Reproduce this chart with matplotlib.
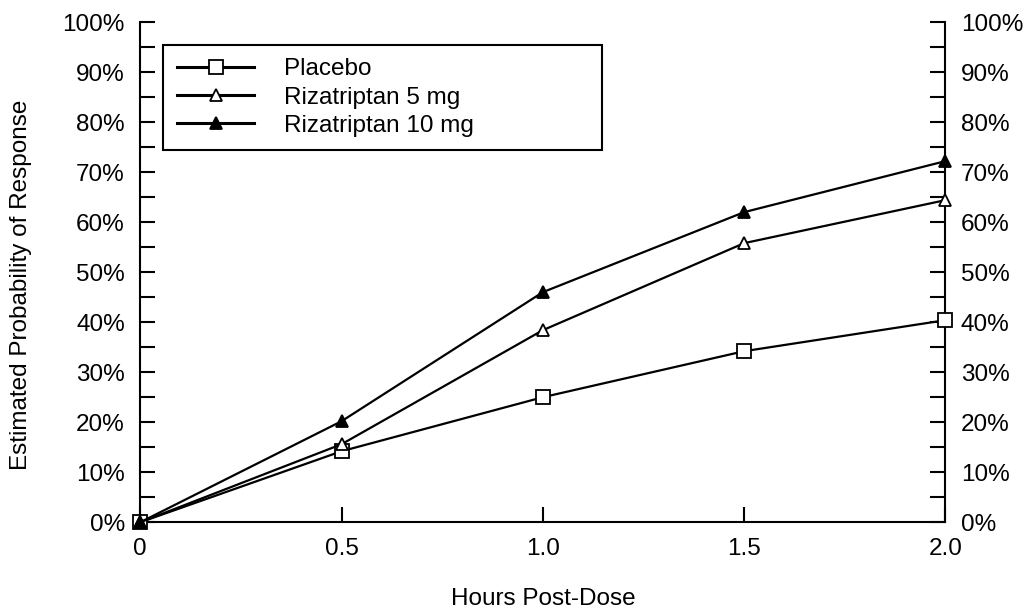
import numpy as np
import matplotlib.pyplot as plt
from matplotlib.ticker import MultipleLocator, FuncFormatter

plt.rcParams['font.family'] = ['Liberation Sans', 'DejaVu Sans']

# Data
hours = [0, 0.5, 1.0, 1.5, 2.0]
placebo = [0, 14.2, 25.0, 34.2, 40.4]
riza_5mg = [0, 15.6, 38.4, 55.8, 64.4]
riza_10mg = [0, 20.2, 46.0, 62.0, 72.2]
x_ticks = [0, 0.5, 1.0, 1.5, 2.0]
x_tick_labels = ['0', '0.5', '1.0', '1.5', '2.0']

fig = plt.figure(figsize=(10.31, 6.13), dpi=100)
ax = fig.add_axes([0.136, 0.148, 0.781, 0.816])

ax.plot(hours, placebo, color='black', lw=1.6, marker='s', ms=10,
        mfc='white', mec='black', mew=1.3, label='Placebo', zorder=3, clip_on=False)
ax.plot(hours, riza_5mg, color='black', lw=1.6, marker='^', ms=9,
        mfc='white', mec='black', mew=1.3, label='Rizatriptan 5 mg', zorder=4, clip_on=False)
ax.plot(hours, riza_10mg, color='black', lw=1.6, marker='^', ms=9,
        mfc='black', mec='black', mew=1.3, label='Rizatriptan 10 mg', zorder=5, clip_on=False)

ax.set_xlim(0, 2.0)
ax.set_ylim(0, 100)
ax.set_xticks(x_ticks)
ax.set_xticklabels(x_tick_labels)
ax.yaxis.set_major_locator(MultipleLocator(10))
ax.yaxis.set_minor_locator(MultipleLocator(5))
ax.yaxis.set_major_formatter(FuncFormatter(lambda v, p: f'{int(v)}%'))

ax.spines['top'].set_visible(False)
for s in ['left', 'right', 'bottom']:
    ax.spines[s].set_linewidth(1.5)

ax.tick_params(axis='both', which='both', direction='in', width=1.5,
               labelsize=17.5, colors='black')
ax.tick_params(axis='y', which='both', length=11, right=True, labelright=True, pad=11)
ax.tick_params(axis='x', which='major', length=11, pad=11)

ax.set_xlabel('Hours Post-Dose', fontsize=17.5)
ax.set_ylabel('Estimated Probability of Response', fontsize=17.5)
ax.xaxis.set_label_coords(0.5, -0.132)
ax.yaxis.set_label_coords(-0.134, 0.475)

leg = ax.legend(loc='upper left', bbox_to_anchor=(0.0286, 0.954, 0.545, 0.0),
                mode='expand', fontsize=17.5,
                frameon=True, fancybox=False, edgecolor='black', framealpha=1,
                handlelength=3.2, borderpad=0.55, labelspacing=0.25,
                handletextpad=1.2, borderaxespad=0)
leg.get_frame().set_linewidth(1.5)
for line in leg.get_lines():
    line.set_linewidth(2.2)

fig.savefig('out.png', dpi=100)
